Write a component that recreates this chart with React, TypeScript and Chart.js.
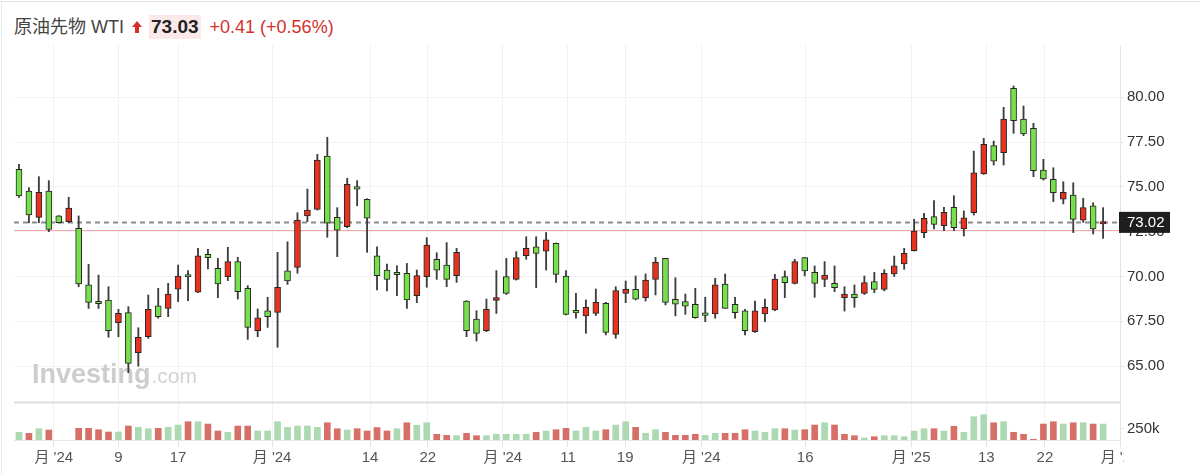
import React, { useEffect, useRef } from "react";
import { Chart, registerables } from "chart.js";

Chart.register(...registerables);

// ---------- data ----------
const openP = [
  75.98, 74.77, 73.3, 74.77, 73.38, 73.06, 72.69, 69.53, 68.52, 68.69,
  67.42, 67.98, 65.75, 66.64, 68.37, 68.22, 69.3, 70.0, 69.12, 71.24,
  70.46, 69.99, 70.83, 69.34, 66.98, 68.09, 68.0, 70.31, 70.51, 73.38,
  73.75, 76.72, 73.3, 72.78, 75.01, 74.31, 71.16, 70.36, 70.13, 70.18,
  68.93, 69.99, 70.96, 70.64, 70.05, 68.63, 67.63, 66.98, 68.67, 69.99,
  69.84, 71.16, 71.66, 71.42, 71.85, 70.03, 67.99, 67.8, 67.94, 68.5,
  66.77, 69.06, 69.28, 68.82, 69.84, 71.01, 68.73, 68.6, 68.45, 67.85,
  67.91, 69.58, 68.45, 68.09, 66.92, 67.91, 68.13, 69.99, 69.62, 71.05,
  70.23, 69.84, 69.62, 68.82, 69.02, 69.06, 69.71, 69.28, 70.15, 70.7,
  71.44, 72.45, 73.34, 72.84, 73.86, 72.65, 73.56, 75.72, 77.3, 76.91,
  80.5, 78.79, 78.27, 75.94, 75.42, 74.32, 74.55, 73.15, 73.95, 72.93,
];
const highP = [
  76.26, 74.96, 75.57, 75.35, 73.4, 74.42, 73.38, 70.68, 70.08, 69.43,
  68.17, 68.32, 67.14, 68.97, 69.34, 69.62, 70.64, 70.33, 71.57, 71.52,
  71.01, 71.63, 71.07, 69.49, 68.19, 68.84, 71.35, 71.94, 73.56, 74.88,
  76.82, 77.77, 73.84, 75.48, 75.35, 74.34, 71.66, 70.7, 70.6, 70.73,
  70.36, 72.17, 71.33, 71.89, 71.57, 68.65, 68.09, 68.74, 70.33, 71.01,
  71.39, 72.22, 72.22, 72.46, 71.87, 70.33, 69.06, 68.69, 69.3, 68.56,
  69.43, 69.75, 70.03, 70.14, 71.07, 71.01, 69.93, 69.02, 69.34, 68.84,
  69.9, 70.14, 68.84, 68.17, 68.63, 68.74, 70.12, 70.31, 70.96, 71.07,
  70.59, 70.83, 70.59, 69.43, 69.53, 70.03, 70.23, 70.38, 71.14, 71.57,
  73.19, 73.52, 74.23, 73.86, 74.51, 73.66, 77.0, 77.71, 77.56, 79.44,
  80.63, 79.51, 78.55, 76.54, 76.07, 75.29, 75.23, 74.36, 74.12, 73.84,
];
const lowP = [
  74.42, 73.0, 73.0, 72.5, 72.98, 73.0, 69.43, 68.22, 68.22, 66.61,
  66.64, 64.63, 65.0, 66.55, 67.67, 67.76, 68.6, 68.65, 69.1, 70.42,
  68.82, 69.77, 68.74, 66.49, 66.64, 67.16, 66.05, 69.56, 70.18, 73.06,
  73.71, 72.19, 71.11, 72.72, 73.95, 71.35, 69.25, 69.19, 68.93, 68.22,
  68.54, 69.4, 69.84, 69.43, 69.67, 66.64, 66.4, 66.92, 67.94, 69.0,
  69.8, 70.96, 69.38, 70.36, 69.67, 67.85, 67.67, 66.83, 67.82, 66.74,
  66.55, 68.54, 68.69, 68.63, 68.97, 68.41, 67.8, 67.89, 67.67, 67.48,
  67.67, 68.22, 67.67, 66.74, 66.88, 67.48, 68.09, 68.82, 69.58, 70.03,
  68.84, 69.43, 69.15, 68.07, 68.28, 69.0, 69.1, 69.2, 70.0, 70.4,
  71.42, 72.17, 72.65, 72.56, 72.56, 72.26, 73.43, 75.7, 76.22, 76.22,
  77.99, 77.86, 75.57, 75.38, 74.18, 74.05, 72.45, 73.02, 72.37, 72.13,
];
const closeP = [
  74.49, 73.43, 74.7, 72.63, 73.0, 73.82, 69.58, 68.56, 68.48, 66.98,
  67.94, 65.15, 66.61, 68.17, 67.76, 69.02, 70.03, 69.97, 71.16, 71.05,
  69.58, 70.83, 69.15, 67.16, 67.7, 67.76, 69.4, 69.75, 73.15, 73.71,
  76.5, 72.97, 72.59, 75.14, 74.88, 73.25, 70.05, 69.84, 70.1, 68.69,
  70.05, 71.76, 70.36, 69.84, 71.35, 66.98, 66.83, 68.17, 68.82, 69.06,
  71.05, 71.57, 71.29, 72.04, 70.12, 67.89, 67.97, 68.28, 68.56, 66.88,
  69.21, 69.28, 68.73, 69.8, 70.79, 68.56, 68.45, 68.35, 67.7, 67.83,
  69.53, 68.22, 67.98, 66.98, 68.09, 68.28, 69.86, 69.66, 70.83, 70.31,
  69.62, 70.08, 69.38, 69.02, 68.82, 69.66, 69.28, 70.18, 70.59, 71.29,
  72.54, 73.25, 72.91, 73.58, 72.72, 73.28, 75.79, 77.38, 76.44, 78.79,
  78.7, 77.95, 75.91, 75.44, 74.68, 74.7, 73.19, 73.84, 72.65, 73.02,
];
// volume in thousands (null = no volume shown)
const volumeK: (number | null)[] = [
  166, 144, 243, 215, null, null, 252, 252, 222, 172,
  172, 301, 273, 243, 252, 273, 323, 394, 394, 344,
  194, 166, 301, 301, 194, 194, 394, 273, 301, 301,
  273, 372, 243, 215, 243, 194, 269, 194, 243, 372,
  316, 372, 123, 101, 93, 144, 93, 93, 123, 123,
  123, 123, 166, 194, 222, 252, 194, 273, 194, 222,
  323, 394, 273, 144, 222, 166, 101, 101, 123, 101,
  144, 144, 144, 222, 194, 166, 243, 243, 215, 222,
  323, 372, 323, 123, 93, 43, 71, 93, 93, 71,
  194, 243, 243, 194, 295, 166, 502, 545, 372, 394,
  166, 123, 15, 344, 394, 344, 372, 372, 344, 344,
];
const priceTicks = [65, 67.5, 70, 72.5, 75, 77.5, 80];
const dateTickPos = [3.5, 10, 16, 25.45, 35.3, 41.1, 48.65, 55.2, 60.95, 68.6, 79.05, 89.7, 97.25, 103.15, 110.7];
const dateTickLabels = ["月 '24", "9", "17", "月 '24", "14", "22", "月 '24", "11", "19", "月 '24", "16", "月 '25", "13", "22", "月 '25"];
const lastPrice = 73.02;
const prevClose = 72.62;
const volTickValue = 250000;
const volTickLabel = "250k";

const titleName = "原油先物 WTI";
const quote = "73.03";
const changeText = "+0.41 (+0.56%)";

// ---------- style ----------
const FONT = '"Liberation Sans", Arial, "Noto Sans CJK JP", sans-serif';
const UP = "#e6321f";
const DOWN = "#76e04c";
const VOL_UP = "#acd8b2";
const VOL_DOWN = "#d76f69";

export default function App() {
  const ref = useRef<HTMLCanvasElement | null>(null);

  useEffect(() => {
    if (!ref.current) return;
    const idx = closeP.map((_, i) => i);

    const overlay = {
      id: "overlay",
      beforeDatasetsDraw(chart: any) {
        const { ctx, chartArea } = chart;
        const y = chart.scales.y;
        ctx.save();
        // watermark
        ctx.textBaseline = "alphabetic";
        ctx.textAlign = "left";
        ctx.fillStyle = "#cdcdcd";
        ctx.font = `bold 27px ${FONT}`;
        ctx.fillText("Investing", 32, 383);
        const w = ctx.measureText("Investing").width;
        ctx.fillStyle = "#d3d3d3";
        ctx.font = `21px ${FONT}`;
        ctx.fillText(".com", 32 + w + 1, 383);
        // separator between panes
        ctx.fillStyle = "#dedede";
        ctx.fillRect(chartArea.left, 401.5, chartArea.right - chartArea.left, 2);
        // previous close line
        const yp = Math.round(y.getPixelForValue(prevClose)) + 0.5;
        ctx.strokeStyle = "#f4a9a9";
        ctx.lineWidth = 1;
        ctx.beginPath();
        ctx.moveTo(chartArea.left, yp);
        ctx.lineTo(chartArea.right, yp);
        ctx.stroke();
        // last price dashed line
        const yl = y.getPixelForValue(lastPrice);
        ctx.strokeStyle = "#8c8c8c";
        ctx.lineWidth = 2;
        ctx.setLineDash([5, 4]);
        ctx.beginPath();
        ctx.moveTo(chartArea.left, yl);
        ctx.lineTo(chartArea.right, yl);
        ctx.stroke();
        ctx.restore();
      },
      afterDraw(chart: any) {
        const { ctx, chartArea } = chart;
        const x = chart.scales.x;
        const y = chart.scales.y;
        const yv = chart.scales.yv;
        ctx.save();
        // date labels (clipped at the right like the reference)
        ctx.save();
        ctx.beginPath();
        ctx.rect(0, chartArea.bottom, chartArea.right + 4, 40);
        ctx.clip();
        ctx.fillStyle = "#555";
        ctx.font = `15px ${FONT}`;
        ctx.textAlign = "center";
        ctx.textBaseline = "middle";
        dateTickPos.forEach((p, i) => {
          ctx.fillText(dateTickLabels[i], x.getPixelForValue(p), 458);
        });
        ctx.restore();
        // volume tick label
        const yvt = yv.getPixelForValue(volTickValue);
        ctx.strokeStyle = "#e2e4ea";
        ctx.lineWidth = 1;
        ctx.beginPath();
        ctx.moveTo(chartArea.right, Math.round(yvt) + 0.5);
        ctx.lineTo(chartArea.right + 4, Math.round(yvt) + 0.5);
        ctx.stroke();
        ctx.fillStyle = "#333";
        ctx.font = `15px ${FONT}`;
        ctx.textAlign = "left";
        ctx.textBaseline = "middle";
        ctx.fillText(volTickLabel, chartArea.right + 7, yvt);
        // last price label box
        const yl = y.getPixelForValue(lastPrice);
        ctx.fillStyle = "#1e1e1e";
        ctx.fillRect(chartArea.right - 1, yl - 10.5, 51, 21);
        ctx.fillStyle = "#ffffff";
        ctx.fillText(lastPrice.toFixed(2), chartArea.right + 7, yl + 0.5);
        ctx.restore();
      },
    };

    const chart = new Chart(ref.current, {
      type: "bar",
      data: {
        datasets: [
          {
            label: "volume",
            yAxisID: "yv",
            data: idx
              .filter((i) => volumeK[i] !== null)
              .map((i) => ({ x: i, y: (volumeK[i] as number) * 1000 })),
            backgroundColor: idx
              .filter((i) => volumeK[i] !== null)
              .map((i) => (i === 0 || closeP[i] >= closeP[i - 1] ? VOL_UP : VOL_DOWN)),
            barThickness: 6,
            borderWidth: 0,
            grouped: false,
            order: 3,
          } as any,
          {
            label: "wick",
            yAxisID: "y",
            data: idx.map((i) => ({ x: i, y: [lowP[i], highP[i]] })),
            backgroundColor: "#3d3d3d",
            barThickness: 1.2,
            borderWidth: 0,
            grouped: false,
            order: 2,
          } as any,
          {
            label: "body",
            yAxisID: "y",
            data: idx.map((i) => ({ x: i, y: [openP[i], closeP[i]] })),
            backgroundColor: idx.map((i) => (closeP[i] >= openP[i] ? UP : DOWN)),
            borderColor: "#262626",
            borderWidth: 1,
            borderSkipped: false,
            barThickness: 6,
            minBarLength: 2.5,
            grouped: false,
            order: 1,
          } as any,
        ],
      },
      options: {
        responsive: false,
        animation: false,
        events: [],
        layout: { padding: { left: 14, top: 45, right: 0, bottom: 0 } },
        plugins: { legend: { display: false }, tooltip: { enabled: false } },
        scales: {
          x: {
            type: "linear",
            offset: false,
            min: -0.5,
            max: 110.7,
            afterBuildTicks: (s: any) => {
              s.ticks = dateTickPos.map((v) => ({ value: v }));
            },
            afterFit: (s: any) => {
              s.height = 35;
            },
            ticks: { display: false, autoSkip: false },
            grid: { offset: false, color: "#f1f1f4", tickLength: 7, tickColor: "#e2e3e8", drawTicks: true },
            border: { display: true, color: "#e6e7ec" },
          },
          y: {
            type: "linear",
            position: "right",
            min: 60.876,
            max: 82.919,
            afterBuildTicks: (s: any) => {
              s.ticks = priceTicks.map((v) => ({ value: v }));
            },
            afterFit: (s: any) => {
              s.width = 80;
            },
            ticks: {
              color: "#333",
              font: { size: 15, family: FONT },
              padding: 3,
              callback: (v: any) => Number(v).toFixed(2),
            },
            grid: { color: "#f2f2f4", tickLength: 4, tickColor: "#e2e4ea" },
            border: { display: true, color: "#e2e4ea" },
          },
          yv: {
            type: "linear",
            position: "right",
            display: false,
            min: 0,
            max: 8512931,
          },
        },
      } as any,
      plugins: [overlay],
    });
    return () => chart.destroy();
  }, []);

  return (
    <div style={{ position: "relative", width: 1200, height: 475, overflow: "hidden", background: "#fff" }}>
      <style>{"body{margin:0}"}</style>
      <div style={{ position: "absolute", left: 0, top: 1, width: 1200, height: 1, background: "#e3e3e3" }} />
      <div style={{ position: "absolute", left: 1, top: 1, width: 1, height: 474, background: "#ececec" }} />
      <div
        style={{
          position: "absolute",
          left: 14,
          top: 15,
          display: "flex",
          alignItems: "center",
          whiteSpace: "nowrap",
          fontFamily: FONT,
          fontSize: 18,
          lineHeight: "24px",
          color: "#444",
        }}
      >
        <span>{titleName}</span>
        <svg width="10" height="12" viewBox="0 0 10 12" style={{ marginLeft: 8, marginRight: 7 }}>
          <polygon points="5,0 10,6 7,6 7,12 3,12 3,6 0,6" fill="#d5302b" />
        </svg>
        <span style={{ fontWeight: 700, color: "#222", background: "#fbe9e9", padding: "0 2px", fontSize: 19 }}>
          {quote}
        </span>
        <span style={{ color: "#d5302b", marginLeft: 9, fontWeight: 500 }}>{changeText}</span>
      </div>
      <canvas ref={ref} width={1200} height={475} style={{ position: "absolute", left: 0, top: 0 }} />
    </div>
  );
}
